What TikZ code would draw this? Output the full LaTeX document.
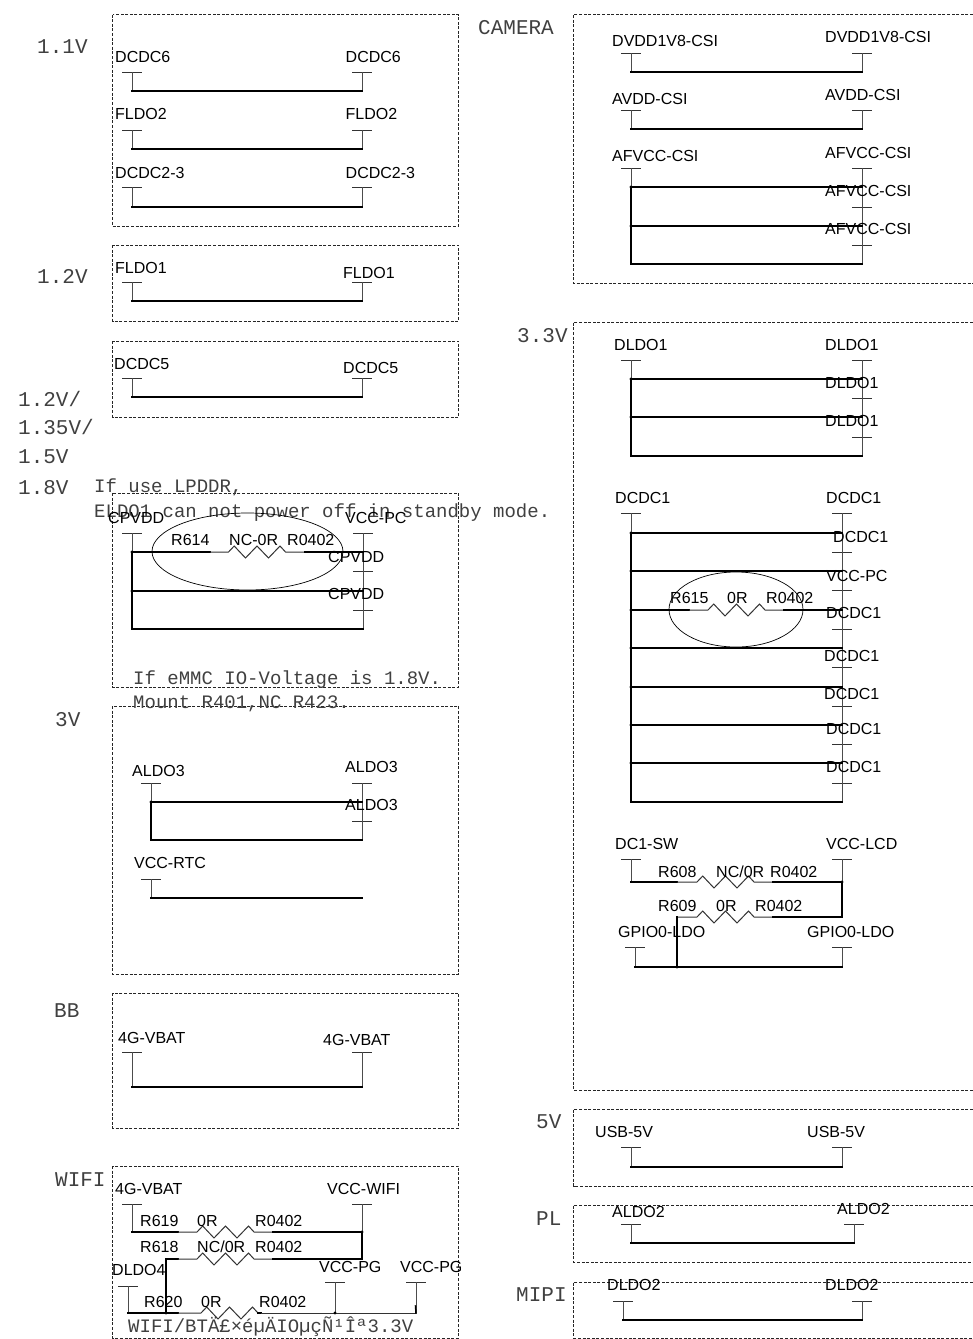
\documentclass[tikz,border=0pt]{standalone}
\usepackage{fontspec}
\setmainfont{Liberation Sans}
\newfontfamily\monofnt{Liberation Mono}
\newcounter{labc}
\tikzset{
  x=1pt,y=-1pt,
  boxline/.style={draw=black!85,line width=0.8pt,dash pattern=on 3pt off 1.6pt},
  barline/.style={draw=black!80,line width=0.9pt},
  stemline/.style={draw=black!70,line width=1pt},
  wireline/.style={draw=black,line width=1.5pt,line cap=rect},
  thinlead/.style={draw=black!80,line width=1pt},
  ringline/.style={draw=black,line width=0.7pt},
  pinlabel/.style={anchor=base west,inner sep=0pt,yshift=-5.5pt,font=\fontsize{16}{18}\selectfont,text=black},
  railtext/.style={anchor=base west,inner sep=0pt,yshift=-6.5pt,font=\monofnt\fontsize{21}{24}\selectfont,text=black!75},
  notetext/.style={anchor=base west,inner sep=0pt,yshift=-6pt,font=\monofnt\fontsize{19}{22}\selectfont,text=black!75},
}
% label macros
\newcommand{\lab}[3]{\stepcounter{labc}\node[pinlabel] (lab\arabic{labc}) at (#1,#2) {#3};}
\newcommand{\rail}[3]{\stepcounter{labc}\node[railtext] (lab\arabic{labc}) at (#1,#2) {#3};}
\newcommand{\note}[3]{\stepcounter{labc}\node[notetext] (lab\arabic{labc}) at (#1,#2) {#3};}
% pin: T bar, named coordinate at its middle
\newcommand{\pin}[3]{\coordinate (#1) at (#2,#3); \draw[barline] ($(#1)+(-10,0)$) -- ($(#1)+(10,0)$);}
% U shaped link between two pins at height y
\newcommand{\ulink}[3]{\draw[stemline] (#1) -- (#1 |- 0,#3); \draw[stemline] (#2) -- (#2 |- 0,#3); \draw[wireline] (#1 |- 0,#3) -- (#2 |- 0,#3);}
% bus branch from x of first pin to x of second at y
\newcommand{\branch}[3]{\draw[wireline] (#1 |- 0,#3) -- (#2 |- 0,#3); \fill (#1 |- 0,#3) circle (1.7);}
% resistor: start x, thick end, zig start, thick restart, end x, y
\newcommand{\reswire}[6]{%
  \draw[wireline] (#1,#6) -- (#2,#6);
  \draw[thinlead] (#2,#6) -- (#3,#6) -- ++(5.7,-6) -- ++(11.3,12) -- ++(11.5,-12) -- ++(11.5,12) -- ++(11.5,-12) -- ++(5.5,6) -- (#4,#6);
  \draw[wireline] (#4,#6) -- (#5,#6);}
\usetikzlibrary{calc}
\begin{document}
\begin{tikzpicture}
\useasboundingbox (0,0) rectangle (973,1339);

% dashed frames, left column
\draw[boxline] (112.5,14.5) rectangle (458.5,226);
\draw[boxline] (112.5,245) rectangle (458.5,321);
\draw[boxline] (112.5,341) rectangle (458.5,417);
\draw[boxline] (112.5,493) rectangle (458.5,687);
\draw[boxline] (112.5,706) rectangle (458.5,974);
\draw[boxline] (112.5,993) rectangle (458.5,1128);
\draw[boxline] (112.5,1166) rectangle (458.5,1338);
% dashed frames, right column (open on the page edge)
\draw[boxline] (973,14.5) -- (573.5,14.5) -- (573.5,283.5) -- (973,283.5);
\draw[boxline] (973,322) -- (573.5,322) -- (573.5,1090) -- (973,1090);
\draw[boxline] (973,1109) -- (573.5,1109) -- (573.5,1186) -- (973,1186);
\draw[boxline] (973,1205) -- (573.5,1205) -- (573.5,1262) -- (973,1262);
\draw[boxline] (973,1282) -- (573.5,1282) -- (573.5,1338) -- (973,1338);

% rail names
\rail{37}{47}{1.1V}
\rail{37}{277}{1.2V}
\rail{18}{400}{1.2V/}
\rail{18}{428}{1.35V/}
\rail{18}{457}{1.5V}
\rail{18}{488}{1.8V}
\rail{55}{720}{3V}
\rail{54}{1011}{BB}
\rail{55}{1180}{WIFI}
\rail{478}{28}{CAMERA}
\rail{517}{336}{3.3V}
\rail{536}{1122}{5V}
\rail{536}{1219}{PL}
\rail{516}{1295}{MIPI}

% 1.1V
\pin{a1}{132}{72}\pin{a2}{362}{72}\ulink{a1}{a2}{91}
\lab{115}{57}{DCDC6}\lab{345.5}{57}{DCDC6}
\pin{b1}{132}{130}\pin{b2}{362}{130}\ulink{b1}{b2}{149}
\lab{115}{114}{FLDO2}\lab{345.5}{114}{FLDO2}
\pin{c1}{132}{187}\pin{c2}{362}{187}\ulink{c1}{c2}{207}
\lab{115}{172.5}{DCDC2-3}\lab{345.5}{172.5}{DCDC2-3}
% 1.2V
\pin{d1}{132}{282}\pin{d2}{362}{282}\ulink{d1}{d2}{301}
\lab{115}{268}{FLDO1}\lab{343}{273}{FLDO1}
% DCDC5
\pin{e1}{132}{378}\pin{e2}{362}{378}\ulink{e1}{e2}{397}
\lab{114}{364}{DCDC5}\lab{343}{368}{DCDC5}

% 1.8V
\note{94}{486}{If use LPDDR,}
\note{94}{511}{ELDO1 can not power off in standby mode.}
\pin{f1}{132}{533}\pin{f2}{363}{533}\pin{f3}{363}{571}\pin{f4}{363}{610}
\draw[stemline] (f1) -- (f1 |- 0,552);
\draw[stemline] (f2) -- (f4 |- 0,629);
\draw[wireline] (f1 |- 0,552) -- (f1 |- 0,629) -- (f4 |- 0,629);
\reswire{132}{210}{228.5}{305}{363}{552}
\branch{f1}{f3}{591}
\fill (f1 |- 0,552) circle (1.7);
\draw[ringline] (247.5,551.5) ellipse (95.5 and 38.5);
\lab{108}{518}{CPVDD}\lab{345}{518}{VCC-PC}
\lab{171}{540}{R614}\lab{229}{540}{NC-0R}\lab{287}{540}{R0402}
\lab{328}{557}{CPVDD}\lab{328}{594}{CPVDD}
\note{133}{678}{If eMMC IO-Voltage is 1.8V.}
\note{133}{702}{Mount R401,NC R423.}

% 3V
\pin{g1}{151}{783}\pin{g2}{362}{783}\pin{g3}{362}{821}
\draw[stemline] (g1) -- (g1 |- 0,802);
\draw[stemline] (g2) -- (g3 |- 0,840);
\draw[wireline] (g1 |- 0,802) -- (g1 |- 0,840) -- (g3 |- 0,840);
\branch{g1}{g3}{802}
\lab{132}{771}{ALDO3}\lab{345}{767}{ALDO3}\lab{345}{805}{ALDO3}
\pin{h1}{151}{879}\coordinate (h2) at (362,898);
\draw[stemline] (h1) -- (h1 |- h2);
\draw[wireline] (h1 |- h2) -- (h2);
\lab{134}{863}{VCC-RTC}

% BB
\pin{i1}{132}{1052}\pin{i2}{362}{1052}\ulink{i1}{i2}{1087}
\lab{118}{1038}{4G-VBAT}\lab{323}{1040}{4G-VBAT}

% WIFI
\pin{j1}{132}{1204}\pin{j2}{362}{1204}
\pin{k1}{128}{1286}\pin{k2}{335}{1282}\pin{k3}{416}{1282}
\coordinate (k4) at (166,1259);
\draw[stemline] (j1) -- (j1 |- 0,1232);
\draw[stemline] (j2) -- (j2 |- 0,1232);
\draw[stemline] (k1) -- (k1 |- 0,1313);
\draw[stemline] (k2) -- (k2 |- 0,1313);
\draw[stemline] (k3) -- (k3 |- 0,1313);
\reswire{132}{178}{197}{273}{362}{1232}
\reswire{166}{178}{197}{273}{362}{1259}
\draw[wireline] (j2 |- 0,1232) -- (j2 |- 0,1259);
\draw[wireline] (k4) -- (k4 |- 0,1313);
\reswire{128}{178}{201}{258}{261}{1313}
\draw[thinlead] (261,1313) -- (k3 |- 0,1313);
\draw[wireline] ($(k3 |- 0,1313)+(-0.5,-7)$) -- (k3 |- 0,1313);
\fill (k2 |- 0,1313) circle (1.7);
\fill (k4 |- 0,1313) circle (1.7);
\fill (j2 |- 0,1232) circle (1.7);
\lab{115}{1189}{4G-VBAT}\lab{327}{1189}{VCC-WIFI}
\lab{140}{1221}{R619}\lab{197}{1221}{0R}\lab{255}{1221}{R0402}
\lab{140}{1247}{R618}\lab{197}{1247}{NC/0R}\lab{255}{1247}{R0402}
\lab{112}{1270}{DLDO4}\lab{319}{1267}{VCC-PG}\lab{400}{1267}{VCC-PG}
\lab{144}{1302}{R620}\lab{201}{1302}{0R}\lab{259}{1302}{R0402}
\note{128}{1326}{WIFI/BTÄ£×éµÄIOµçÑ¹Îª3.3V}

% CAMERA
\pin{m1}{631}{53}\pin{m2}{862}{53}\ulink{m1}{m2}{72}
\lab{612}{41}{DVDD1V8-CSI}\lab{825}{37}{DVDD1V8-CSI}
\pin{n1}{631}{110}\pin{n2}{862}{110}\ulink{n1}{n2}{129}
\lab{612}{99}{AVDD-CSI}\lab{825}{95}{AVDD-CSI}
\pin{o1}{631}{168}\pin{o2}{862}{168}\pin{o3}{862}{207}\pin{o4}{862}{245}
\draw[stemline] (o1) -- (o1 |- 0,187);
\draw[stemline] (o2) -- (o4 |- 0,264);
\draw[wireline] (o1 |- 0,187) -- (o1 |- 0,264) -- (o4 |- 0,264);
\branch{o1}{o3}{187}\branch{o1}{o3}{226}
\lab{612}{156}{AFVCC-CSI}\lab{825}{153}{AFVCC-CSI}\lab{825}{191}{AFVCC-CSI}\lab{825}{229}{AFVCC-CSI}

% 3.3V : DLDO1
\pin{p1}{631}{360}\pin{p2}{862}{360}\pin{p3}{862}{398}\pin{p4}{862}{437}
\draw[stemline] (p1) -- (p1 |- 0,379);
\draw[stemline] (p2) -- (p4 |- 0,456);
\draw[wireline] (p1 |- 0,379) -- (p1 |- 0,456) -- (p4 |- 0,456);
\branch{p1}{p3}{379}\branch{p1}{p3}{417}
\lab{614}{345}{DLDO1}\lab{825}{345}{DLDO1}\lab{825}{383}{DLDO1}\lab{825}{421}{DLDO1}

% 3.3V : DCDC1
\pin{q0}{631}{513}\pin{q1}{842}{513}\pin{q2}{842}{552}\pin{q3}{842}{590}\pin{q4}{842}{629}
\pin{q5}{842}{667}\pin{q6}{842}{706}\pin{q7}{842}{744}\pin{q8}{842}{783}
\draw[stemline] (q0) -- (q0 |- 0,533);
\draw[stemline] (q1) -- (q8 |- 0,802);
\draw[wireline] (q0 |- 0,533) -- (q0 |- 0,802) -- (q8 |- 0,802);
\branch{q0}{q2}{533}\branch{q0}{q2}{571}\branch{q0}{q2}{648}\branch{q0}{q2}{687}\branch{q0}{q2}{725}\branch{q0}{q2}{763}
\reswire{631}{689}{708}{784}{842}{610}
\fill (q0 |- 0,610) circle (1.7);
\draw[ringline] (736,609.5) ellipse (67 and 37.5);
\lab{615}{498}{DCDC1}\lab{826}{498}{DCDC1}\lab{833}{537}{DCDC1}\lab{826}{576}{VCC-PC}
\lab{670}{598}{R615}\lab{727}{598}{0R}\lab{766}{598}{R0402}
\lab{826}{613}{DCDC1}\lab{824}{656}{DCDC1}\lab{824}{694}{DCDC1}\lab{826}{729}{DCDC1}\lab{826}{767}{DCDC1}

% 3.3V : LCD
\pin{r1}{631}{859}\pin{r2}{842}{859}\pin{r3}{635}{947}\pin{r4}{842}{947}
\coordinate (r5) at (677,917);
\draw[stemline] (r1) -- (r1 |- 0,882);
\draw[stemline] (r2) -- (r2 |- 0,882);
\draw[stemline] (r3) -- (r3 |- 0,967);
\draw[stemline] (r4) -- (r4 |- 0,967);
\reswire{631}{677}{697}{773}{842}{882}
\reswire{677}{677}{697}{773}{842}{917}
\draw[wireline] (r2 |- 0,882) -- (r2 |- 0,917);
\draw[wireline] (r5) -- (r5 |- 0,967);
\draw[wireline] (r3 |- 0,967) -- (r4 |- 0,967);
\fill (r2 |- 0,882) circle (1.7);
\fill (r5 |- 0,967) circle (1.7);
\lab{615}{844}{DC1-SW}\lab{826}{844}{VCC-LCD}
\lab{658}{872}{R608}\lab{716}{872}{NC/0R}\lab{770}{872}{R0402}
\lab{658}{906}{R609}\lab{716}{906}{0R}\lab{755}{906}{R0402}
\lab{618}{932}{GPIO0-LDO}\lab{807}{932}{GPIO0-LDO}

% 5V, PL, MIPI
\pin{s1}{631}{1147}\pin{s2}{842}{1147}\ulink{s1}{s2}{1167}
\lab{595}{1132}{USB-5V}\lab{807}{1132}{USB-5V}
\pin{t1}{631}{1224}\pin{t2}{854}{1224}\ulink{t1}{t2}{1243}
\lab{612}{1212}{ALDO2}\lab{837}{1209}{ALDO2}
\pin{u1}{623}{1301}\pin{u2}{862}{1301}\ulink{u1}{u2}{1320}
\lab{607}{1285}{DLDO2}\lab{825}{1285}{DLDO2}
\end{tikzpicture}
\end{document}
